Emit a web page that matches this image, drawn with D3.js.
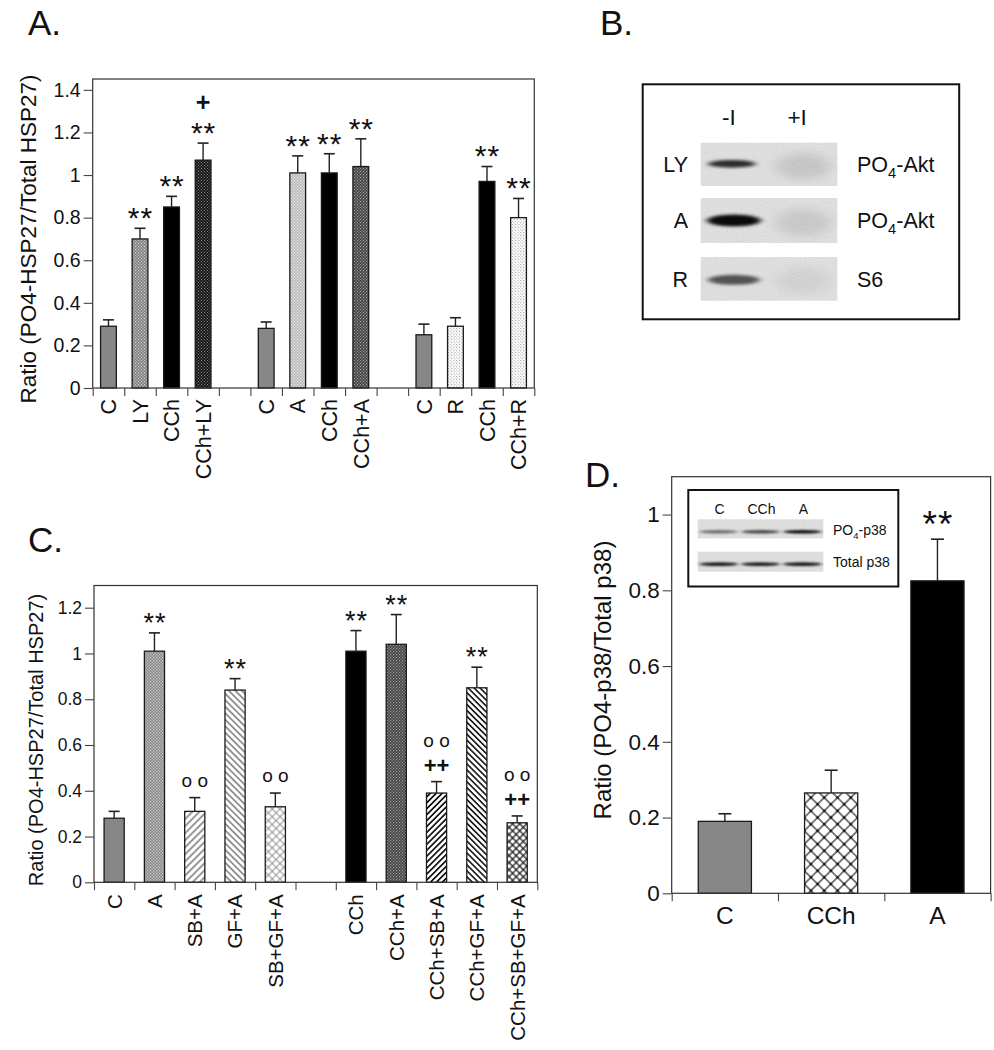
<!DOCTYPE html>
<html><head><meta charset="utf-8">
<script src="https://cdn.jsdelivr.net/npm/d3@7"></script>
<style>
body{margin:0;background:#fff}
svg{display:block}
text{font-family:"Liberation Sans",Arial,Helvetica,sans-serif;fill:#111}
</style>
</head><body>
<svg id="fig" width="994" height="1050"></svg>
<script>
// ---------------- DATA ----------------
// Panel A
const catsA = ["C","LY","CCh","CCh+LY","","C","A","CCh","CCh+A","","C","R","CCh","CCh+R"];
const valsA = [0.29,0.70,0.85,1.07,null,0.28,1.01,1.01,1.04,null,0.25,0.29,0.97,0.80];
const errA  = [0.03,0.05,0.05,0.08,null,0.03,0.08,0.09,0.13,null,0.05,0.04,0.07,0.09];
const sigA  = [[],["**"],["**"],["**","+"],[],[],["**"],["**"],["**"],[],[],[],["**"],["**"]];
const ticksA = [0,0.2,0.4,0.6,0.8,1,1.2,1.4];
const titleA = "Ratio (PO4-HSP27/Total HSP27)";

// Panel B (western blot)
const lanesB = ["-I","+I"];
const rowsB = ["LY","A","R"];
const targetsB = ["PO4-Akt","PO4-Akt","S6"];
const bandB = [[0.80,0.10],[0.95,0.09],[0.62,0.05]];

// Panel C
const catsC = ["C","A","SB+A","GF+A","SB+GF+A","","CCh","CCh+A","CCh+SB+A","CCh+GF+A","CCh+SB+GF+A"];
const valsC = [0.28,1.01,0.31,0.84,0.33,null,1.01,1.04,0.39,0.85,0.26];
const errC  = [0.03,0.08,0.06,0.05,0.06,null,0.09,0.13,0.05,0.09,0.03];
const sigC  = [[],["**"],["o o"],["**"],["o o"],[],["**"],["**"],["++","o o"],["**"],["++","o o"]];
const ticksC = [0,0.2,0.4,0.6,0.8,1,1.2];
const titleC = "Ratio (PO4-HSP27/Total HSP27)";

// Panel D
const catsD = ["C","CCh","A"];
const valsD = [0.19,0.265,0.825];
const errD  = [0.02,0.06,0.11];
const sigD  = [[],[],["**"]];
const ticksD = [0,0.2,0.4,0.6,0.8,1];
const titleD = "Ratio (PO4-p38/Total p38)";
const lanesD = ["C","CCh","A"];
const rowsD = ["PO4-p38","Total p38"];
const bandD = [[0.50,0.68,0.95],[0.88,0.86,0.88]];

// ---------------- STYLES ----------------
const FONT = '"Liberation Sans",Arial,Helvetica,sans-serif';
const fillsA = ["solid","dotMid","black","dotDark",null,"solid","dotLight","black","dotDarkMid",null,"solid","dotWhite","black","dotWhite"];
const fillsC = ["solid","checkMid","hatchF","hatchB","crossLight",null,"black","dotDarkMid","hatchFd","hatchBd","crossDark"];
const fillsD = ["solid","crossD","black"];

const svg = d3.select("#fig");
const defs = svg.append("defs");

function dotPat(id, bg, dot, size, ds){
  const p = defs.append("pattern").attr("id",id).attr("patternUnits","userSpaceOnUse")
    .attr("width",size).attr("height",size);
  p.append("rect").attr("width",size).attr("height",size).attr("fill",bg);
  p.append("rect").attr("x",0).attr("y",0).attr("width",ds).attr("height",ds).attr("fill",dot);
  p.append("rect").attr("x",size/2).attr("y",size/2).attr("width",ds).attr("height",ds).attr("fill",dot);
}
dotPat("dotMid","#7e7e7e","#cfcfcf",3,1.2);
dotPat("dotDark","#151515","#8a8a8a",3,1);
dotPat("dotLight","#b8b8b8","#ececec",3,1.2);
dotPat("dotDarkMid","#444","#a4a4a4",3,1.1);
dotPat("dotWhite","#ffffff","#9a9a9a",3.2,1);
dotPat("checkMid","#858585","#cdcdcd",3,1.3);

function hatchPat(id, angle, sp, sw, col, cross, dots){
  const p = defs.append("pattern").attr("id",id).attr("patternUnits","userSpaceOnUse")
    .attr("width",sp).attr("height",sp).attr("patternTransform",`rotate(${angle})`);
  p.append("rect").attr("width",sp).attr("height",sp).attr("fill","#fff");
  p.append("line").attr("x1",0).attr("y1",-1).attr("x2",0).attr("y2",sp+1).attr("stroke",col).attr("stroke-width",sw);
  p.append("line").attr("x1",sp).attr("y1",-1).attr("x2",sp).attr("y2",sp+1).attr("stroke",col).attr("stroke-width",sw);
  if(cross){
    p.append("line").attr("x1",-1).attr("y1",0).attr("x2",sp+1).attr("y2",0).attr("stroke",col).attr("stroke-width",sw);
    p.append("line").attr("x1",-1).attr("y1",sp).attr("x2",sp+1).attr("y2",sp).attr("stroke",col).attr("stroke-width",sw);
  }
  if(dots){
    [[0,0],[sp,0],[0,sp],[sp,sp]].forEach(([a,b])=>p.append("circle").attr("cx",a).attr("cy",b).attr("r",dots).attr("fill",col));
  }
}
hatchPat("hatchF",45,5,1,"#333",false);
hatchPat("hatchB",-45,4.6,1,"#333",false);
hatchPat("crossLight",45,5.5,0.9,"#888",true);
hatchPat("hatchFd",45,4.2,1.7,"#111",false);
hatchPat("hatchBd",-45,4.2,1.6,"#111",false);
hatchPat("crossDark",45,5,1.2,"#111",true);
hatchPat("crossD",45,9.4,1.1,"#111",true,1.4);

function fillOf(k){
  if(k==="solid") return "#878787";
  if(k==="black") return "#000";
  return `url(#${k})`;
}

// blot filters
const grain = defs.append("filter").attr("id","grain").attr("x",0).attr("y",0).attr("width",1).attr("height",1);
grain.append("feTurbulence").attr("type","fractalNoise").attr("baseFrequency",0.75).attr("numOctaves",2).attr("seed",7).attr("result","n");
grain.append("feColorMatrix").attr("in","n").attr("type","matrix")
  .attr("values","0 0 0 0 0.35  0 0 0 0 0.35  0 0 0 0 0.35  0 0 0 0.3 0").attr("result","g");
grain.append("feComposite").attr("in","g").attr("in2","SourceGraphic").attr("operator","in");
const blur = defs.append("filter").attr("id","blur").attr("x","-50%").attr("y","-100%").attr("width","200%").attr("height","300%");
blur.append("feGaussianBlur").attr("stdDeviation","3 1.6");
const blur2 = defs.append("filter").attr("id","blurS").attr("x","-50%").attr("y","-150%").attr("width","200%").attr("height","400%");
blur2.append("feGaussianBlur").attr("stdDeviation","2 0.9");
const blur3 = defs.append("filter").attr("id","blurL").attr("x","-50%").attr("y","-100%").attr("width","200%").attr("height","300%");
blur3.append("feGaussianBlur").attr("stdDeviation","7 4");

// chemical text with subscript
function chem(sel, str, fs){
  const m = str.match(/^(PO)(4)(.*)$/);
  if(!m){ sel.text(str); return; }
  sel.append("tspan").text(m[1]);
  sel.append("tspan").text(m[2]).attr("font-size",fs*0.68).attr("dy",fs*0.28);
  sel.append("tspan").text(m[3]).attr("dy",-fs*0.28);
}

// ---------------- BAR PANEL ----------------
function barPanel(o){
  const g = svg.append("g");
  const n = o.cats.length;
  const y = d3.scaleLinear().domain([0,o.max]).range([o.base,o.top]);
  const xb = d3.scaleBand().domain(d3.range(n)).range([o.left,o.right]);
  const xl = d3.scaleLinear().domain([0,n]).range([o.left,o.right]);
  const bw = xb.bandwidth()*0.5;
  const cx = i => xb(i)+xb.bandwidth()/2;
  const idx = d3.range(n).filter(i=>o.vals[i]!=null);

  g.selectAll("rect.bar").data(idx).join("rect").attr("class","bar")
    .attr("x",i=>cx(i)-bw/2).attr("width",bw)
    .attr("y",i=>y(o.vals[i])).attr("height",i=>y(0)-y(o.vals[i]))
    .attr("fill",i=>fillOf(o.fills[i])).attr("stroke","#1a1a1a").attr("stroke-width",1.3);

  g.selectAll("line.err").data(idx).join("line").attr("class","err")
    .attr("x1",cx).attr("x2",cx).attr("y1",i=>y(o.vals[i])).attr("y2",i=>y(o.vals[i]+o.errs[i]))
    .attr("stroke","#222").attr("stroke-width",1.4);
  g.selectAll("line.cap").data(idx).join("line").attr("class","cap")
    .attr("x1",i=>cx(i)-o.capW/2).attr("x2",i=>cx(i)+o.capW/2)
    .attr("y1",i=>y(o.vals[i]+o.errs[i])).attr("y2",i=>y(o.vals[i]+o.errs[i]))
    .attr("stroke","#222").attr("stroke-width",1.6);

  // significance marks
  idx.forEach(i=>{
    const top = y(o.vals[i]+o.errs[i]);
    o.sigs[i].forEach((s,k)=>{
      const c = top - o.sigGap - k*o.sigStep;
      let fs, off, weight="normal", ls=0;
      if(s.startsWith("*")){ fs=o.starFont; off=0.56*fs; ls=o.starLS; }
      else if(s.startsWith("+")){ fs=o.plusFont; off=0.33*fs; weight="bold"; }
      else { fs=o.circFont; off=0.27*fs; }
      g.append("text").attr("x",cx(i)+ls/2).attr("y",c+off).attr("text-anchor","middle")
        .attr("font-size",fs).attr("font-weight",weight).attr("letter-spacing",ls).text(s);
    });
  });

  g.append("rect").attr("x",o.left).attr("y",o.top).attr("width",o.right-o.left).attr("height",o.base-o.top)
    .attr("fill","none").attr("stroke","#333").attr("stroke-width",1.2);

  const ya = g.append("g").attr("transform",`translate(${o.left},0)`)
    .call(d3.axisLeft(y).tickValues(o.ticks).tickSize(9).tickPadding(3).tickFormat(d=>String(+d.toFixed(1))));
  ya.select(".domain").remove();
  ya.attr("font-size",o.tickFont).attr("font-family",FONT);
  ya.selectAll("line").attr("stroke","#444").attr("stroke-width",1.1);
  ya.selectAll("text").attr("fill","#111");

  const xa = g.append("g").attr("transform",`translate(0,${o.base})`)
    .call(d3.axisBottom(xl).tickValues(d3.range(n+1)).tickSize(8).tickFormat(""));
  xa.select(".domain").remove();
  xa.selectAll("line").attr("stroke","#444").attr("stroke-width",1.1);

  if(o.rotate){
    g.selectAll("text.xl").data(idx).join("text").attr("class","xl")
      .attr("transform",i=>`translate(${cx(i)},${o.base+o.labOff}) rotate(-90)`)
      .attr("text-anchor","end").attr("dy","0.36em").attr("font-size",o.labFont).text(i=>o.cats[i]);
  } else {
    g.selectAll("text.xl").data(idx).join("text").attr("class","xl")
      .attr("x",cx).attr("y",o.base+o.labOff).attr("text-anchor","middle")
      .attr("font-size",o.labFont).text(i=>o.cats[i]);
  }
  g.append("text").attr("transform",`translate(${o.titleX},${o.titleY}) rotate(-90)`)
    .attr("text-anchor","middle").attr("dy","0.35em").attr("font-size",o.titleFont).text(o.title);
  return g;
}

barPanel({cats:catsA,vals:valsA,errs:errA,sigs:sigA,fills:fillsA,ticks:ticksA,title:titleA,
  left:92.7,right:534.3,top:79,base:388,max:1.451,capW:11,
  sigGap:17,sigStep:23,starFont:30,starLS:1,plusFont:25,circFont:17,
  tickFont:19.5,labFont:21.5,labOff:11,rotate:true,titleX:28,titleY:239,titleFont:22.5});

barPanel({cats:catsC,vals:valsC,errs:errC,sigs:sigC,fills:fillsC,ticks:ticksC,title:titleC,
  left:94,right:537.3,top:585.5,base:882.3,max:1.297,capW:11,
  sigGap:16,sigStep:24,starFont:27,starLS:1,plusFont:22,circFont:19,
  tickFont:17.5,labFont:20.5,labOff:12,rotate:true,titleX:36,titleY:740,titleFont:20});

barPanel({cats:catsD,vals:valsD,errs:errD,sigs:sigD,fills:fillsD,ticks:ticksD,title:titleD,
  left:671.7,right:990.6,top:476.7,base:893.3,max:1.1,capW:13,
  sigGap:23,sigStep:22,starFont:37,starLS:1,plusFont:22,circFont:17,
  tickFont:22.5,labFont:24.5,labOff:31,rotate:false,titleX:603,titleY:680,titleFont:24});

// ---------------- BLOTS ----------------
function blot(g, x0, x1, y0, y1, nl, row, sx, sy, filt){
  const lanes = d3.scaleBand().domain(d3.range(nl)).range([x0,x1]);
  g.append("rect").attr("x",x0).attr("y",y0).attr("width",x1-x0).attr("height",y1-y0).attr("fill","#e8e8e8");
  g.append("rect").attr("x",x0).attr("y",y0).attr("width",x1-x0).attr("height",y1-y0).attr("fill","#fff").attr("filter","url(#grain)");
  const cy = (y0+y1)/2;
  row.forEach((v,i)=>{
    const c = lanes(i)+lanes.bandwidth()/2;
    if(v>0.3){
      g.append("ellipse").attr("cx",c+sx.dx).attr("cy",cy+sy.dy).attr("rx",sx.rx).attr("ry",sy.ry)
        .attr("fill","#000").attr("opacity",v).attr("filter",`url(#${filt})`);
    } else {
      g.append("ellipse").attr("cx",c).attr("cy",cy+2).attr("rx",lanes.bandwidth()*0.4).attr("ry",(y1-y0)*0.3)
        .attr("fill","#000").attr("opacity",v).attr("filter","url(#blurL)");
    }
  });
  return lanes;
}

// Panel B
const gB = svg.append("g");
gB.append("rect").attr("x",642.7).attr("y",84.3).attr("width",316.5).attr("height",235).attr("fill","none").attr("stroke","#111").attr("stroke-width",2);
const rowYB = [[142.7,186],[198,243],[257,300.7]];
let lanesScaleB;
rowsB.forEach((r,k)=>{
  const [a,b] = rowYB[k];
  const spec = [{dx:-3,rx:24,ry:3.8},{dx:-1,rx:27,ry:6},{dx:-1,rx:26,ry:5}][k];
  lanesScaleB = blot(gB,700.7,837.3,a,b,2,bandB[k],spec,{dy:[-0.5,0,1][k],ry:spec.ry},"blur");
  gB.append("text").attr("x",688).attr("y",(a+b)/2).attr("dy","0.36em").attr("text-anchor","end").attr("font-size",21.5).text(r);
  const t = gB.append("text").attr("x",857).attr("y",(a+b)/2).attr("dy","0.36em").attr("font-size",21.5);
  chem(t,targetsB[k],21.5);
});
lanesB.forEach((l,i)=>{
  gB.append("text").attr("x",lanesScaleB(i)+lanesScaleB.bandwidth()/2-6).attr("y",125).attr("text-anchor","middle").attr("font-size",22.5).text(l);
});

// Panel D inset
const gI = svg.append("g");
gI.append("rect").attr("x",688.3).attr("y",490).attr("width",210).attr("height",96.5).attr("fill","#fff").attr("stroke","#111").attr("stroke-width",2);
const rowYD = [[519.3,538.3],[551.7,571.7]];
let lanesScaleD;
rowsD.forEach((r,k)=>{
  const [a,b] = rowYD[k];
  lanesScaleD = blot(gI,697.7,823.3,a,b,3,bandD[k],{dx:0,rx:19},{dy:k===0?3:2.5,ry:[1.8,1.9][k]},"blurS");
  const t = gI.append("text").attr("x",833).attr("y",(a+b)/2+(k===0?1:0)).attr("dy","0.36em").attr("font-size",14);
  chem(t,r,14);
});
lanesD.forEach((l,i)=>{
  gI.append("text").attr("x",lanesScaleD(i)+lanesScaleD.bandwidth()/2+1).attr("y",514).attr("text-anchor","middle").attr("font-size",14).text(l);
});

// ---------------- PANEL LETTERS ----------------
[["A.",28,35],["B.",600,35],["C.",28,552],["D.",585,487]].forEach(([t,x,y])=>{
  svg.append("text").attr("x",x).attr("y",y).attr("font-size",35).text(t);
});
</script>
</body></html>
